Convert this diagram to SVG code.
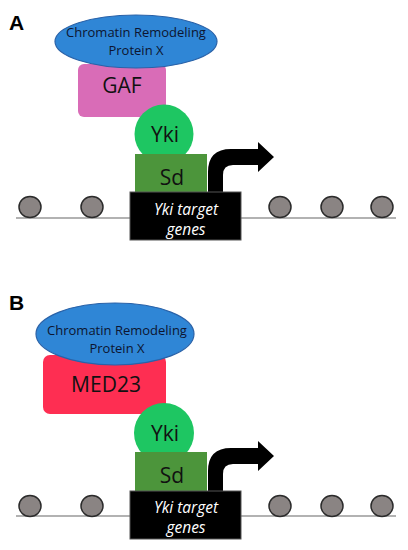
<svg xmlns="http://www.w3.org/2000/svg" width="408" height="550" viewBox="0 0 408 550">
<style>
.lbl{font-family:"Liberation Sans",Arial,sans-serif;font-weight:bold;font-size:21px;fill:#000}
.crp{fill:#2f86d6;stroke:#2a62a8;stroke-width:1.2}
.crpt{font-family:"Open Sans","Liberation Sans",Arial,sans-serif;font-size:13px;fill:#0d1530;text-anchor:middle}
.big{font-family:"Open Sans","Liberation Sans",Arial,sans-serif;font-size:21px;fill:#111;text-anchor:middle}
.gaf{fill:#d96cb7}
.med{fill:#fe2e52}
.yki{fill:#1ec662}
.sd{fill:#4c953b}
.box{fill:#000;stroke:#555;stroke-width:1}
.gt{font-family:"Open Sans","Liberation Sans",Arial,sans-serif;font-style:italic;font-size:15.5px;fill:#fff;text-anchor:middle}
.dna{stroke:#999;stroke-width:1.5}
.nuc{fill:#8a8483;stroke:#2b2b2b;stroke-width:1.5}
</style>
<rect width="408" height="550" fill="#fff"/>
<g id="panelA">
<text class="lbl" x="9" y="30">A</text>
<g id="connectorsA">
<line class="dna" x1="16" y1="218" x2="396" y2="218"/>
<path id="arrowA" d="M208,193 V172 Q208,149 231,149 H258 V142 L274,157 L258,172 V165 H233 Q223,165 223,175 V193 Z" fill="#000"/>
</g>
<g id="nucA1"><ellipse class="nuc" cx="30" cy="207" rx="11" ry="10.5"/></g>
<g id="nucA2"><ellipse class="nuc" cx="92" cy="207" rx="11" ry="10.5"/></g>
<g id="nucA3"><ellipse class="nuc" cx="280" cy="207" rx="11" ry="10.5"/></g>
<g id="nucA4"><ellipse class="nuc" cx="332" cy="207" rx="11" ry="10.5"/></g>
<g id="nucA5"><ellipse class="nuc" cx="382" cy="207" rx="11" ry="10.5"/></g>
<g id="gafA"><rect class="gaf" x="78" y="64" width="88" height="53" rx="6"/><text class="big" x="122" y="93" font-size="22">GAF</text></g>
<g id="crpA"><ellipse class="crp" cx="136" cy="41.5" rx="81" ry="26.5"/><text class="crpt" x="136" y="37">Chromatin Remodeling</text><text class="crpt" x="136" y="55">Protein X</text></g>
<g id="ykiA"><circle class="yki" cx="164" cy="134" r="29.5"/><text class="big" x="165" y="142">Yki</text></g>
<g id="sdA"><rect class="sd" x="135" y="154" width="72" height="39"/><text class="big" x="172" y="185">Sd</text></g>
<g id="genesA"><rect class="box" x="130" y="192" width="111" height="48"/><text class="gt" x="186" y="215">Yki target</text><text class="gt" x="186" y="235">genes</text></g>
</g>
<g id="panelB">
<text class="lbl" x="9" y="310">B</text>
<g id="connectorsB">
<line class="dna" x1="16" y1="516" x2="396" y2="516"/>
<path id="arrowB" d="M208,492 V471 Q208,448 231,448 H258 V441 L274,456 L258,471 V464 H233 Q223,464 223,474 V492 Z" fill="#000"/>
</g>
<g id="nucB1"><ellipse class="nuc" cx="30" cy="506" rx="11" ry="10.5"/></g>
<g id="nucB2"><ellipse class="nuc" cx="92" cy="506" rx="11" ry="10.5"/></g>
<g id="nucB3"><ellipse class="nuc" cx="280" cy="506" rx="11" ry="10.5"/></g>
<g id="nucB4"><ellipse class="nuc" cx="332" cy="506" rx="11" ry="10.5"/></g>
<g id="nucB5"><ellipse class="nuc" cx="382" cy="506" rx="11" ry="10.5"/></g>
<g id="medB"><rect class="med" x="43" y="355" width="123" height="59" rx="7"/><text class="big" x="106" y="392" font-size="22">MED23</text></g>
<g id="crpB"><ellipse class="crp" cx="115" cy="334" rx="79" ry="31"/><text class="crpt" x="117" y="335">Chromatin Remodeling</text><text class="crpt" x="117" y="353">Protein X</text></g>
<g id="ykiB"><circle class="yki" cx="164" cy="433" r="30"/><text class="big" x="165" y="441">Yki</text></g>
<g id="sdB"><rect class="sd" x="135" y="452" width="72" height="40"/><text class="big" x="172" y="483">Sd</text></g>
<g id="genesB"><rect class="box" x="130" y="491" width="111" height="48"/><text class="gt" x="186" y="513">Yki target</text><text class="gt" x="186" y="533">genes</text></g>
</g>
</svg>
